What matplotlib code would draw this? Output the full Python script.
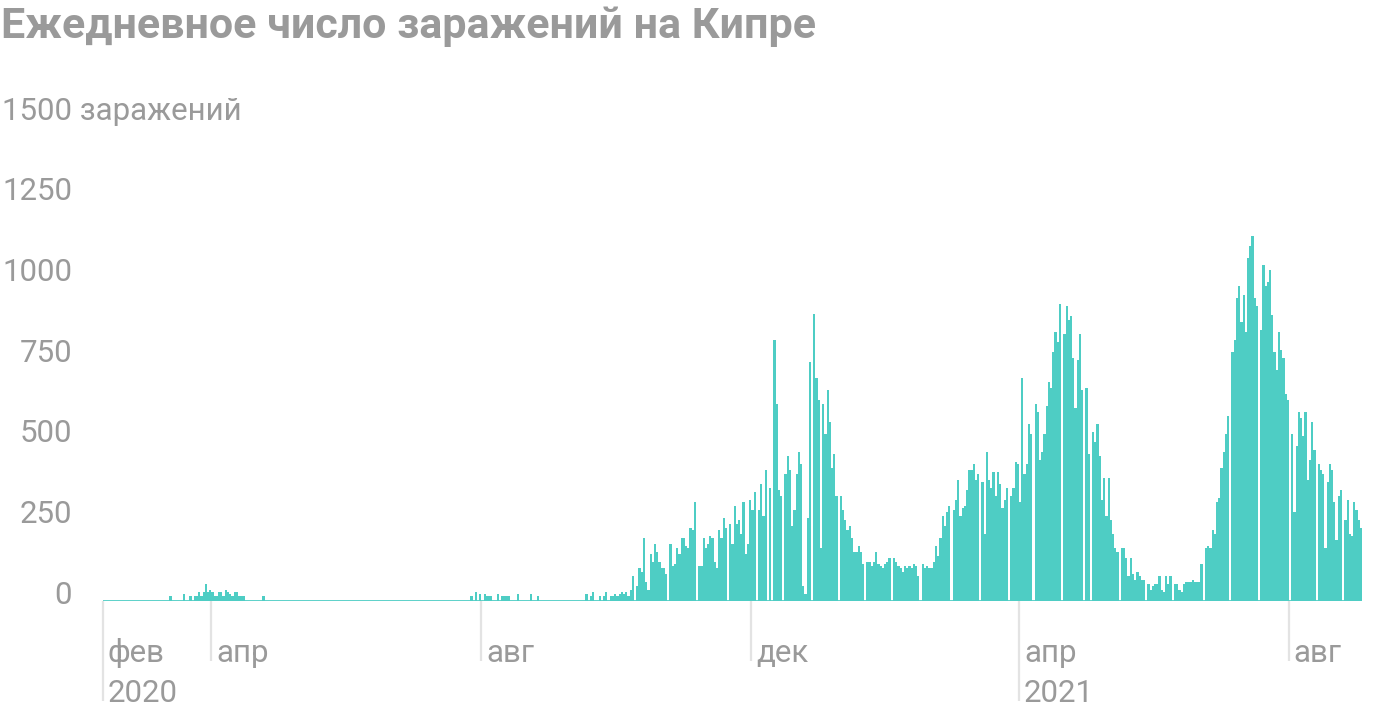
import matplotlib
matplotlib.use("Agg")
import matplotlib.pyplot as plt
import matplotlib.transforms as mtransforms
import pandas as pd

TEAL = "#4ecdc4"
GREY = "#9a9a9a"
TICK_GREY = "#e3e3e3"

plt.rcParams["font.family"] = ["Roboto", "DejaVu Sans"]

title = "Ежедневное число заражений на Кипре"
start_date = "2020-02-12"

# daily new cases, one value per day from start_date
daily_cases = [
    # Feb-Mar 2020
    0, 0, 0, 0, 0, 0, 0, 0, 0, 0, 0, 0, 0, 0, 0, 0, 0, 0, 0, 0, 0, 0, 0, 0, 0, 0, 0, 0, 0, 0, 14,
    0, 0, 0, 0, 0, 21, 0, 0, 14, 0, 14, 14, 27, 14, 27, 52, 27, 33, 27, 14, 14, 27, 27, 14, 33, 27, 21,
    14, 27, 27, 14, 14, 14, 0, 0, 0, 0, 0, 0, 0, 0, 14,
    # late Apr - Jul 2020
    0, 0, 0, 0, 0, 0, 0, 0, 0, 0, 0, 0, 0, 0, 0, 0, 0, 0, 0, 0, 0, 0, 0, 0, 0, 0, 0, 0, 0, 0, 0,
    0, 0, 0, 0, 0, 0, 0, 0, 0, 0, 0, 0, 0, 0, 0, 0, 0, 0, 0, 0, 0, 0, 0, 0, 0, 0, 0, 0, 0, 0, 0,
    0, 0, 0, 0, 0, 0, 0, 0, 0, 0, 0, 0, 0, 0, 0, 0, 0, 0, 0, 0, 0, 0, 0, 0, 0, 0, 0, 0, 0, 0, 0,
    # Jul - Sep 2020
    15, 0, 28, 0, 22, 0, 22, 15, 15, 15, 0, 0, 22, 0, 15, 15, 15, 15, 0, 0, 0, 22, 0, 0, 0, 0, 0, 22,
    0, 0, 15,
    0, 0, 0, 0, 0, 0, 0, 0, 0, 0, 0, 0, 0, 0, 0, 0, 0,
    # Sep - Oct 2020
    0, 0, 0, 0, 22, 0, 14, 27, 0, 0, 14, 0, 14, 27, 0, 14, 14, 22, 14, 22, 27, 22, 27, 14, 33, 78,
    0, 46, 102, 90, 195, 59, 34, 146, 121, 177, 152, 121, 102, 102, 84, 0, 177, 108, 115, 164, 146,
    195, 195, 170, 164, 226, 220, 307, 0, 108, 108, 195, 164, 177, 201,
    # Nov 2020 - Jan 2021
    195, 121, 102, 220, 195, 257, 226, 0, 239, 177, 294, 239, 251, 208, 307, 146, 177, 313, 282, 338,
    0, 282, 363, 264, 406, 0, 350, 0, 809, 611, 344, 326, 0, 394, 450, 406, 233, 282, 394, 462,
    425, 47, 22, 257, 741, 0, 890, 691, 623, 164, 611, 518, 654, 555, 412, 456, 326, 0, 326,
    # Jan - Mar 2021
    282, 251, 220, 233, 195, 152, 152, 170, 152, 115, 0, 121, 121, 108, 121, 152, 115, 108, 102, 115,
    121, 133, 0, 133, 121, 108, 102, 90, 108, 102, 108, 102, 115, 108, 78, 0, 115, 102, 108, 102,
    102, 121, 170, 140, 195, 264, 233, 276, 294, 0, 282, 313, 375, 264, 288, 294, 344, 406, 406,
    # Mar - May 2021
    425, 375, 394, 0, 369, 208, 462, 375, 350, 400, 326, 400, 363, 288, 313, 350, 0, 326, 350, 431,
    425, 307, 691, 394, 425, 549, 518, 0, 611, 586, 437, 462, 518, 605, 679, 660, 772, 834, 803, 921,
    0, 828, 915, 871, 884, 753, 598, 747, 828, 654, 0, 660, 456, 0, 524, 493, 549, 450, 313,
    # May - Jul 2021
    381, 264, 381, 251, 208, 164, 152, 0, 164, 164, 133, 78, 133, 84, 65, 90, 78, 65, 65, 0,
    53, 34, 47, 53, 53, 78, 34, 28, 78, 53, 78, 0, 53, 53, 34, 28, 53, 59, 59, 59,
    65, 59, 59, 60, 116, 0, 165, 172, 165, 221, 209, 308, 320, 413, 463, 519, 574, 0, 773,
    # Jul - Sep 2021
    810, 940, 977, 866, 947, 835, 1064, 1101, 1132, 940, 915, 0, 841, 1040, 977, 990, 1027, 885, 773, 717,
    835, 779, 754, 643, 624, 0, 519, 277, 481, 587, 568, 512, 587, 376, 438, 556, 469, 0, 426, 407,
    395, 165, 370, 426, 407, 308, 190, 326, 345, 0, 252, 314, 209, 202, 308, 283, 252, 227,
]

y_ticks = [0, 250, 500, 750, 1000, 1250]
y_top = 1500
y_top_label = "1500 заражений"

tick_dates = ["2020-02-12", "2020-04-01", "2020-08-01", "2020-12-01", "2021-04-01", "2021-08-01"]
month_labels = ["фев", "апр", "авг", "дек", "апр", "авг"]
year_labels = ["2020", "", "", "", "2021", ""]

dates = pd.date_range(start_date, periods=len(daily_cases), freq="D")

fig = plt.figure(figsize=(14, 7.12), dpi=100)
ax = fig.add_axes([103 / 1400, 111 / 712, 1259 / 1400, 484 / 712])

ax.bar(dates, daily_cases, width=1.0, align="edge", color=TEAL, linewidth=0)
ax.axhline(0, color=TEAL, linewidth=2, zorder=3)
ax.set_xlim(dates[0], dates[-1] + pd.Timedelta(days=1))
ax.set_ylim(0, y_top)

for side in ["top", "right", "left", "bottom"]:
    ax.spines[side].set_visible(False)
ax.set_yticks([])

# long ticks for year starts, short ones for months
tick_pos = pd.to_datetime(tick_dates)
major = [d for d, y in zip(tick_pos, year_labels) if y]
minor = [d for d, y in zip(tick_pos, year_labels) if not y]
ax.set_xticks(major)
ax.set_xticks(minor, minor=True)
ax.tick_params(axis="x", which="major", length=72, width=1.6, color=TICK_GREY, labelbottom=False)
ax.tick_params(axis="x", which="minor", length=43, width=1.6, color=TICK_GREY, labelbottom=False)

label_size = 22.5
for d, m, y in zip(tick_pos, month_labels, year_labels):
    ax.annotate(m, xy=(d, 0), xycoords=("data", "axes fraction"), xytext=(3.5, -44),
                textcoords="offset points", ha="left", va="baseline",
                fontsize=label_size, color=GREY)
    if y:
        ax.annotate(y, xy=(d, 0), xycoords=("data", "axes fraction"), xytext=(3.5, -73),
                    textcoords="offset points", ha="left", va="baseline",
                    fontsize=label_size, color=GREY)

# y labels sit on their value lines
trans = mtransforms.blended_transform_factory(fig.transFigure, ax.transData)
for v in y_ticks:
    ax.annotate(str(v), xy=(72 / 1400, v), xycoords=trans, xytext=(0, -2),
                textcoords="offset points", ha="right", va="baseline",
                fontsize=label_size, color=GREY)
ax.annotate(y_top_label, xy=(2 / 1400, y_top), xycoords=trans, xytext=(0, -2),
            textcoords="offset points", ha="left", va="baseline",
            fontsize=label_size, color=GREY)

fig.text(1 / 1400, (712 - 38) / 712, title, ha="left", va="baseline",
         fontsize=31, color=GREY, fontweight="bold")

fig.savefig("out.png", dpi=100)
